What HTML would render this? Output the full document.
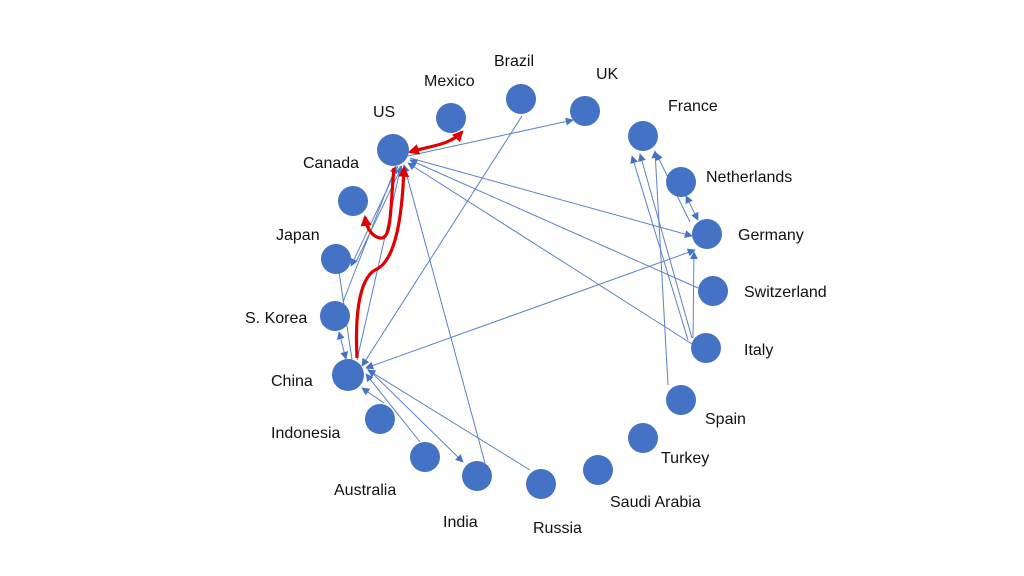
<!DOCTYPE html>
<html><head><meta charset="utf-8"><style>
html,body{margin:0;padding:0;background:#fff;}
svg{display:block}
text{font-family:"Liberation Sans",sans-serif;font-size:16px;fill:#111}
</style></head><body>
<svg width="1024" height="576" viewBox="0 0 1024 576" xmlns="http://www.w3.org/2000/svg">
<defs>
<marker id="a" viewBox="0 0 10 10" refX="9" refY="5" markerWidth="8" markerHeight="8" orient="auto-start-reverse" markerUnits="userSpaceOnUse"><path d="M0,0 L10,5 L0,10 z" fill="#4472c4"/></marker>
<marker id="r" viewBox="0 0 10 10" refX="8" refY="5" markerWidth="11" markerHeight="11" orient="auto-start-reverse" markerUnits="userSpaceOnUse"><path d="M0,0 L10,5 L0,10 z" fill="#e00000"/></marker>
</defs>
<g stroke="#5b82c4" stroke-width="1" fill="none">
<line x1="408" y1="156" x2="573" y2="120" marker-end="url(#a)"/>
<line x1="522" y1="116" x2="362" y2="366" marker-end="url(#a)"/>
<line x1="410" y1="158" x2="692" y2="236" marker-end="url(#a)"/>
<line x1="698" y1="288" x2="410" y2="160" marker-end="url(#a)"/>
<line x1="692" y1="344" x2="408" y2="163" marker-end="url(#a)"/>
<line x1="485" y1="463" x2="404" y2="165" marker-end="url(#a)"/>
<line x1="366" y1="368" x2="695" y2="250" marker-start="url(#a)" marker-end="url(#a)"/>
<line x1="692" y1="338" x2="640" y2="154" marker-end="url(#a)"/>
<line x1="688" y1="340" x2="632" y2="156" marker-end="url(#a)"/>
<line x1="668" y1="385" x2="655" y2="151" marker-end="url(#a)"/>
<line x1="690" y1="222" x2="656" y2="153" marker-end="url(#a)"/>
<line x1="693" y1="338" x2="694" y2="252" marker-end="url(#a)"/>
<line x1="686" y1="196" x2="698" y2="220" marker-start="url(#a)" marker-end="url(#a)"/>
<line x1="351" y1="266" x2="398" y2="166" marker-start="url(#a)"/>
<line x1="356" y1="262" x2="402" y2="166" />
<line x1="343" y1="302" x2="396" y2="166" marker-end="url(#a)"/>
<line x1="357" y1="360" x2="401" y2="166" marker-end="url(#a)"/>
<line x1="352" y1="360" x2="337" y2="258" />
<line x1="346" y1="359" x2="339" y2="332" marker-start="url(#a)" marker-end="url(#a)"/>
<line x1="367" y1="368" x2="463" y2="462" marker-end="url(#a)"/>
<line x1="420" y1="442" x2="366" y2="374" marker-end="url(#a)"/>
<line x1="384" y1="403" x2="362" y2="388" marker-end="url(#a)"/>
<line x1="530" y1="470" x2="368" y2="370" marker-end="url(#a)"/>
</g>
<g stroke="#e00000" stroke-width="3.2" fill="none">
<path d="M410,152 C430,146 450,145 462,132" marker-start="url(#r)" marker-end="url(#r)"/>
<path d="M394,168 C390,210 392,240 380,238 C370,236 366,225 365,217" marker-end="url(#r)"/>
<path d="M357,358 C355,320 358,280 375,270 C395,262 402,220 404,168" marker-end="url(#r)"/>
</g>
<g fill="#4472c4">
<circle cx="393" cy="150" r="16"/><circle cx="451" cy="118" r="15"/><circle cx="521" cy="99" r="15"/>
<circle cx="585" cy="111" r="15"/><circle cx="643" cy="136" r="15"/><circle cx="681" cy="182" r="15"/>
<circle cx="707" cy="234" r="15"/><circle cx="713" cy="291" r="15"/><circle cx="706" cy="348" r="15"/>
<circle cx="681" cy="400" r="15"/><circle cx="643" cy="438" r="15"/><circle cx="598" cy="470" r="15"/>
<circle cx="541" cy="484" r="15"/><circle cx="477" cy="476" r="15"/><circle cx="425" cy="457" r="15"/>
<circle cx="380" cy="419" r="15"/><circle cx="348" cy="375" r="16"/><circle cx="335" cy="316" r="15"/>
<circle cx="336" cy="259" r="15"/><circle cx="353" cy="201" r="15"/>
</g>
<text x="373" y="117">US</text>
<text x="424" y="86">Mexico</text>
<text x="494" y="66">Brazil</text>
<text x="596" y="79">UK</text>
<text x="668" y="111">France</text>
<text x="706" y="182">Netherlands</text>
<text x="738" y="240">Germany</text>
<text x="744" y="297">Switzerland</text>
<text x="744" y="355">Italy</text>
<text x="705" y="424">Spain</text>
<text x="661" y="463">Turkey</text>
<text x="610" y="507">Saudi Arabia</text>
<text x="533" y="533">Russia</text>
<text x="443" y="527">India</text>
<text x="334" y="495">Australia</text>
<text x="271" y="438">Indonesia</text>
<text x="271" y="386">China</text>
<text x="245" y="323">S. Korea</text>
<text x="276" y="240">Japan</text>
<text x="303" y="168">Canada</text>
</svg>
</body></html>
